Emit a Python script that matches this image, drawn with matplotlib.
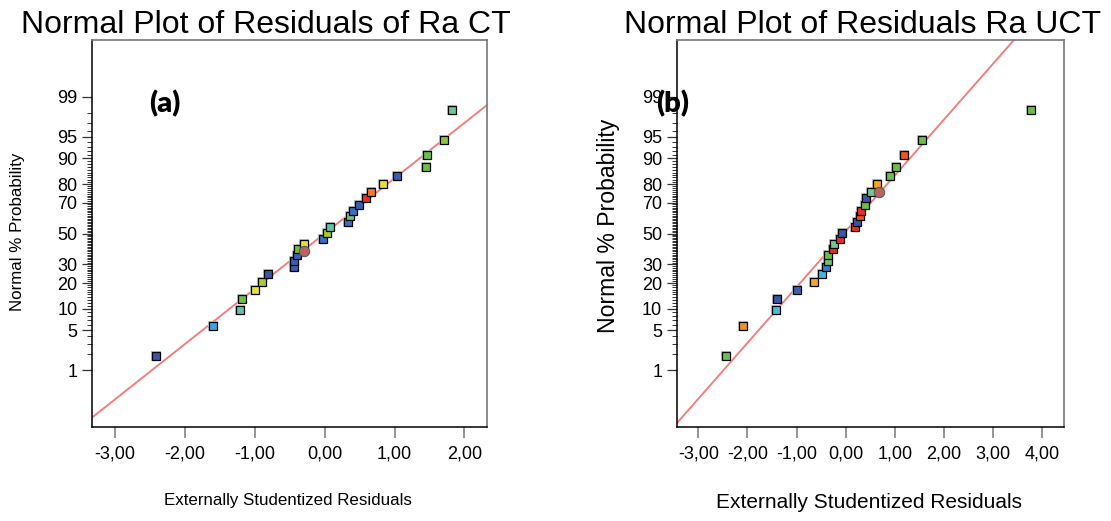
import numpy as np
import matplotlib
matplotlib.use('Agg')
import matplotlib.pyplot as plt
from matplotlib.ticker import FixedLocator, NullFormatter
from statistics import NormalDist

plt.rcParams['font.family'] = ['Liberation Sans', 'DejaVu Sans']

nd = NormalDist()

# --- data ---
titles = ['Normal Plot of Residuals of Ra CT', 'Normal Plot of Residuals Ra UCT']
panel_tags = ['(a)', '(b)']

ct_resid = [-2.42, -1.60, -1.21, -1.19, -0.99, -0.90, -0.81, -0.44, -0.44, -0.39,
            -0.38, -0.30, -0.02, 0.04, 0.08, 0.33, 0.37, 0.41, 0.49, 0.59,
            0.66, 0.83, 1.04, 1.45, 1.47, 1.71, 1.82]
ct_prob = [1.9, 5.7, 9.6, 13.1, 17.0, 20.6, 24.3, 28.2, 31.9, 35.5,
           39.3, 43.0, 46.6, 50.5, 54.3, 57.7, 61.4, 65.2, 68.9, 72.6,
           76.0, 79.9, 83.6, 87.2, 90.8, 94.5, 98.2]
ct_colors = ['#3a56a5', '#35a8e0', '#5ec4b0', '#6cbf45', '#e6e13a', '#a9cc2f', '#3a56a5',
             '#3a5fb0', '#3a5fb0', '#3a5fb0', '#6cbf45', '#e6e13a', '#3b6fc0', '#a9cc2f',
             '#5ec4b0', '#3b6fc0', '#6cc080', '#3b6fc0', '#3a5fb0', '#e8302a', '#f07a2a',
             '#e6e13a', '#3a5fb0', '#6cbf45', '#6cbf45', '#8cc43a', '#6cc890']
ct_circle = (-0.29, 38.6)

uct_resid = [-2.43, -2.09, -1.41, -1.39, -0.99, -0.64, -0.48, -0.41, -0.37, -0.36,
             -0.25, -0.24, -0.12, -0.08, 0.18, 0.23, 0.29, 0.30, 0.40, 0.41,
             0.51, 0.63, 0.90, 1.03, 1.18, 1.55, 3.77]
uct_prob = [1.9, 5.7, 9.6, 13.1, 17.0, 20.6, 24.3, 28.2, 31.9, 35.5,
            39.3, 43.0, 46.6, 50.5, 54.3, 57.7, 61.4, 65.2, 68.9, 72.6,
            76.0, 79.9, 83.6, 87.2, 90.8, 94.5, 98.2]
uct_colors = ['#6cbf55', '#f0902a', '#4cbcd8', '#3a56a5', '#3a5fb0', '#f5a623', '#3cb8e0',
              '#3a78c8', '#70c080', '#6cbf45', '#e8302a', '#70c890', '#e8302a', '#3a56a5',
              '#e8302a', '#3a56a5', '#ee5520', '#e8302a', '#6cbf45', '#3a56a5', '#70c890',
              '#f5a623', '#6cbf45', '#6cbf45', '#ee5520', '#6cbf45', '#6cbf45']
uct_circle = (0.67, 75.8)

# fitted lines: probit = slope * residual + intercept
line_slope = [0.94, 0.95]
line_icpt = [0.0, 0.04]

prob_major = [1, 5, 10, 20, 30, 50, 70, 80, 90, 95, 99]
prob_minor = [p for p in range(1, 100) if p not in prob_major]
x_ticks = [[-3, -2, -1, 0, 1, 2], [-3, -2, -1, 0, 1, 2, 3, 4]]
x_lims = [(-3.33, 2.32), (-3.44, 4.44)]


def fwd(p):
    p = np.clip(np.asarray(p, dtype=float) / 100.0, 1e-12, 1 - 1e-12)
    return np.vectorize(nd.inv_cdf)(p)


def inv(z):
    return np.vectorize(nd.cdf)(np.asarray(z, dtype=float)) * 100.0


fig = plt.figure(figsize=(11.11, 5.21), dpi=100)
boxes = [[0.0828, 0.1804, 0.3553, 0.7428], [0.6091, 0.1804, 0.3486, 0.7428]]
resids = [ct_resid, uct_resid]
probs = [ct_prob, uct_prob]
colors = [ct_colors, uct_colors]
circles = [ct_circle, uct_circle]

# text sizes / places, in figure pixels
ylab = [(18, 232, 12.2), (608, 226, 16.6)]
xlab = [(288, 500, 12.2), (869, 503, 15)]
title_x = [266, 863]
tag_xy = [(165, 104), (673, 104)]
W, H = 1111.0, 521.0

for i in range(2):
    ax = fig.add_axes(boxes[i])
    ax.set_yscale('function', functions=(fwd, inv))
    ax.set_ylim(0.05, 99.95)
    ax.set_xlim(*x_lims[i])

    xx = np.array(x_lims[i])
    ax.plot(xx, inv(line_slope[i] * xx + line_icpt[i]), color='#f08080', lw=1.4, zorder=2)

    for x, p, c in zip(resids[i], probs[i], colors[i]):
        ax.plot(x, p, 's', ms=7.8, color='#c4c4c4', mew=0, zorder=3)
        ax.plot(x, p, 's', ms=6.1, mfc=c, mec='black', mew=0.9, zorder=4)
    cx, cp = circles[i]
    ax.plot(cx, cp, 'o', ms=7.5, mfc='#b86464', mec='#555555', mew=0.7, zorder=4)

    ax.yaxis.set_major_locator(FixedLocator(prob_major))
    ax.yaxis.set_minor_locator(FixedLocator(prob_minor))
    ax.yaxis.set_minor_formatter(NullFormatter())
    ax.set_yticklabels([str(p) for p in prob_major])
    ax.set_xticks(x_ticks[i])
    ax.set_xticklabels([('%.2f' % v).replace('.', ',') for v in x_ticks[i]])

    ax.tick_params(axis='y', which='major', direction='out', length=7.5, width=0.9,
                   color='#333333', labelsize=13, pad=3)
    ax.tick_params(axis='y', which='minor', direction='out', length=3.5, width=0.7,
                   color='#333333')
    ax.tick_params(axis='x', which='major', direction='out', length=8, width=1.1,
                   color='#777777', labelsize=13, pad=5)
    for s in ['left', 'bottom']:
        ax.spines[s].set_color('black')
        ax.spines[s].set_linewidth(1.1)
    for s in ['top', 'right']:
        ax.spines[s].set_color('#777777')
        ax.spines[s].set_linewidth(1.2)

    fig.text(title_x[i] / W, 1 - 33 / H, titles[i], fontsize=23, ha='center', va='baseline')
    fig.text(ylab[i][0] / W, 1 - ylab[i][1] / H, 'Normal % Probability', fontsize=ylab[i][2],
             rotation=90, ha='center', va='center')
    fig.text(xlab[i][0] / W, 1 - xlab[i][1] / H, 'Externally Studentized Residuals',
             fontsize=xlab[i][2], ha='center', va='center')
    fig.text(tag_xy[i][0] / W, 1 - tag_xy[i][1] / H, panel_tags[i], fontsize=21,
             fontweight='heavy', family=['Lato', 'DejaVu Sans'], ha='center', va='center')

fig.savefig('out.png', dpi=100)
